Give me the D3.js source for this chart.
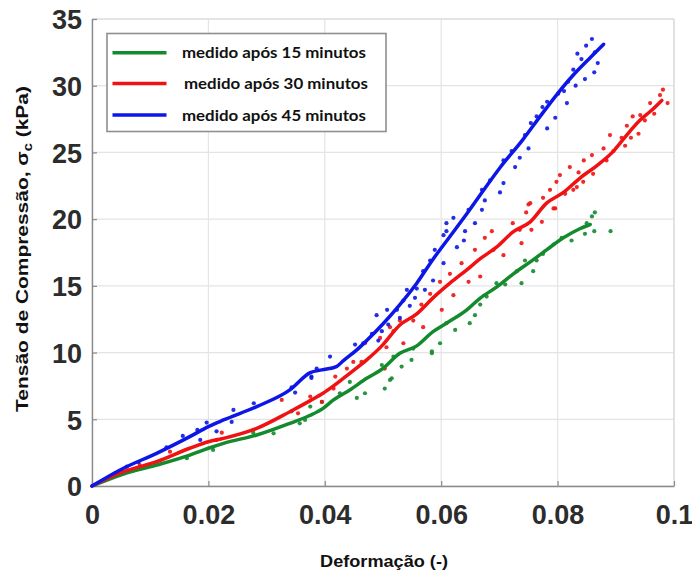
<!DOCTYPE html>
<html>
<head>
<meta charset="utf-8">
<script src="https://cdn.jsdelivr.net/npm/d3@7/dist/d3.min.js"></script>
<style>
  html, body { margin: 0; padding: 0; background: #fff; }
  svg { display: block; }
</style>
</head>
<body>
<svg id="chart" width="692" height="570"></svg>
<script>
// Compression stress vs. strain, measured 15, 30 and 45 minutes after preparation.
const seriesNames = ["medido após 15 minutos", "medido após 30 minutos", "medido após 45 minutos"];
const seriesColors = ["#138a2c", "#f01212", "#0c16e6"];

const xTicks = [0, 0.02, 0.04, 0.06, 0.08, 0.1];
const xTickLabels = ["0", "0.02", "0.04", "0.06", "0.08", "0.1"];
const yTicks = [0, 5, 10, 15, 20, 25, 30, 35];
const yTickLabels = ["0", "5", "10", "15", "20", "25", "30", "35"];

// smoothed curves [strain, stress kPa]
const curve15 = [
  [0, 0], [0.0054, 0.9], [0.0111, 1.57], [0.0168, 2.32], [0.020, 2.83], [0.0226, 3.2],
  [0.0283, 3.82], [0.034, 4.7], [0.0375, 5.3], [0.0397, 5.82], [0.0415, 6.45], [0.0443, 7.2],
  [0.0472, 8.07], [0.0498, 8.75], [0.0529, 9.95], [0.0558, 10.5], [0.0586, 11.57],
  [0.0609, 12.2], [0.0644, 13.2], [0.0666, 14.05], [0.0695, 14.9], [0.0724, 15.9],
  [0.0753, 16.8], [0.0781, 17.7], [0.0810, 18.6], [0.0839, 19.3], [0.0856, 19.6]
];
const curve30 = [
  [0, 0], [0.0054, 1.07], [0.0111, 1.82], [0.0168, 2.83], [0.020, 3.32], [0.0226, 3.57],
  [0.0283, 4.32], [0.034, 5.57], [0.0375, 6.4], [0.0397, 6.95], [0.0415, 7.5], [0.0443, 8.45],
  [0.0472, 9.45], [0.0498, 10.5], [0.0529, 12.07], [0.0558, 12.9], [0.0586, 14.1],
  [0.0615, 15.2], [0.0644, 16.2], [0.0666, 17.0], [0.0695, 17.9], [0.0724, 19.06],
  [0.0753, 19.8], [0.0781, 21.2], [0.0810, 22.0], [0.0839, 23.1], [0.0867, 24.0],
  [0.0896, 25.1], [0.0913, 26.0], [0.0941, 27.4], [0.0960, 28.1], [0.0979, 28.9]
];
const curve45 = [
  [0, 0], [0.0054, 1.33], [0.0111, 2.45], [0.0168, 3.7], [0.020, 4.45], [0.0226, 4.95],
  [0.0283, 5.95], [0.034, 7.2], [0.0375, 8.5], [0.0395, 8.7], [0.042, 8.95], [0.0432, 9.4],
  [0.0455, 10.2], [0.0472, 10.9], [0.0501, 12.2], [0.0529, 13.6], [0.0558, 15.2],
  [0.0586, 17.0], [0.0615, 18.7], [0.0644, 20.4], [0.0670, 22.0], [0.0700, 23.8],
  [0.0741, 26.0], [0.0770, 27.7], [0.0798, 29.3], [0.0827, 30.8], [0.0856, 32.1], [0.0879, 33.1]
];

// raw measurements [strain, stress kPa]
const points15 = [
  [0.0864, 20.5], [0.0859, 20.2], [0.0863, 19.1], [0.0847, 18.9], [0.0891, 19.1], [0.0850, 19.7],
  [0.0824, 18.4], [0.0807, 18.6], [0.0793, 18.1], [0.0775, 17.4], [0.0764, 16.9], [0.0744, 16.9],
  [0.0758, 16.1], [0.0730, 16.1], [0.0738, 15.2], [0.0710, 15.1], [0.0695, 15.2], [0.0678, 14.2],
  [0.0667, 13.6], [0.0658, 12.8], [0.0649, 12.2], [0.0624, 11.7], [0.0609, 12.2], [0.0598, 10.7],
  [0.0584, 10.1], [0.0552, 10.3], [0.0549, 9.45], [0.0532, 8.95], [0.0518, 9.7], [0.0512, 7.95],
  [0.0503, 7.3], [0.0584, 9.95], [0.0515, 8.07], [0.0498, 9.07], [0.0469, 6.95], [0.0455, 6.6],
  [0.0443, 7.8], [0.0426, 6.95], [0.0395, 6.3], [0.0375, 5.95], [0.0366, 4.95], [0.0312, 3.95],
  [0.0357, 4.7], [0.0343, 5.6], [0.0208, 2.7], [0.0163, 2.08], [0.0277, 4.0]
];
const points30 = [
  [0.0981, 29.7], [0.0976, 29.3], [0.0989, 28.7], [0.0959, 28.7], [0.0966, 27.9], [0.0942, 27.8],
  [0.0950, 27.4], [0.0929, 27.7], [0.0939, 26.4], [0.0919, 27.0], [0.0926, 26.1], [0.0910, 26.1],
  [0.0890, 26.3], [0.0916, 25.5], [0.0896, 25.1], [0.0879, 25.3], [0.0859, 24.8], [0.0884, 24.4],
  [0.0861, 23.4], [0.0845, 24.4], [0.0821, 23.9], [0.0836, 23.5], [0.0844, 22.8], [0.0798, 22.8],
  [0.0827, 22.2], [0.0813, 21.9], [0.0787, 22.2], [0.0796, 20.8], [0.0775, 21.6], [0.0753, 21.2],
  [0.0746, 20.5], [0.0773, 19.8], [0.0723, 19.7], [0.0735, 19.2], [0.0687, 19.1], [0.0675, 18.6],
  [0.0804, 23.3], [0.0833, 22.4], [0.0750, 21.1], [0.0793, 20.8], [0.0755, 19.2], [0.0738, 18.2],
  [0.0658, 17.7], [0.0707, 17.3], [0.0690, 17.7], [0.0667, 15.7], [0.0635, 16.7], [0.0615, 15.9],
  [0.0647, 15.3], [0.0598, 15.3], [0.0621, 14.3], [0.0581, 14.4], [0.0601, 13.2], [0.0566, 13.6],
  [0.0552, 12.4], [0.0529, 12.4], [0.0518, 11.6], [0.0569, 11.9], [0.0506, 10.4], [0.0535, 10.7],
  [0.0503, 8.8], [0.0512, 11.9], [0.0495, 11.1], [0.0469, 10.7], [0.0463, 9.3], [0.0449, 9.3],
  [0.0438, 8.8], [0.0418, 8.2], [0.0415, 7.3], [0.0395, 6.3], [0.0375, 6.7], [0.0354, 5.45],
  [0.0326, 6.45], [0.0223, 4.0], [0.0214, 3.45], [0.0134, 2.57], [0.0082, 1.57]
];
const points45 = [
  [0.0859, 33.5], [0.0849, 33.0], [0.0864, 32.5], [0.0834, 32.4], [0.0841, 32.0], [0.0869, 31.7],
  [0.0827, 31.2], [0.0863, 31.0], [0.0847, 30.5], [0.0818, 30.3], [0.0831, 30.0], [0.0811, 29.6],
  [0.0801, 29.4], [0.0816, 28.7], [0.0782, 28.8], [0.0774, 28.4], [0.0796, 27.6], [0.0764, 27.7],
  [0.0782, 26.8], [0.0754, 27.2], [0.0744, 26.3], [0.0721, 25.1], [0.0750, 25.3], [0.0735, 24.6],
  [0.0707, 24.4], [0.0727, 23.9], [0.0684, 22.9], [0.0707, 22.7], [0.0670, 22.2], [0.0701, 22.0],
  [0.0675, 21.4], [0.0647, 20.7], [0.0670, 20.7], [0.0621, 20.1], [0.0609, 19.7], [0.0658, 19.7],
  [0.0641, 19.1], [0.0609, 19.1], [0.0604, 18.8], [0.0639, 18.4], [0.0589, 17.7], [0.0627, 17.9],
  [0.0581, 16.9], [0.0604, 16.7], [0.0569, 16.1], [0.0586, 15.4], [0.0558, 14.8], [0.0541, 14.7],
  [0.0572, 14.7], [0.0555, 14.1], [0.0535, 13.9], [0.0546, 13.5], [0.0524, 13.2], [0.0507, 13.2],
  [0.0529, 12.6], [0.0489, 12.8], [0.0509, 12.1], [0.0498, 11.6], [0.0481, 11.4], [0.0466, 10.7],
  [0.0452, 10.6], [0.0492, 10.9], [0.0409, 9.7], [0.0386, 8.8], [0.0377, 8.2], [0.0377, 8.1],
  [0.0349, 7.0], [0.0343, 7.4], [0.0278, 6.2], [0.0243, 5.7], [0.0240, 4.8], [0.0197, 4.75],
  [0.0214, 4.1], [0.0181, 4.2], [0.0156, 3.75], [0.0128, 2.9], [0.0080, 1.8], [0.0060, 1.45],
  [0.0040, 0.95], [0.0186, 3.45]
];

const curves = [curve15, curve30, curve45];
const points = [points15, points30, points45];

const svg = d3.select("#chart");
const plot = { left: 92, right: 674, top: 19, bottom: 486 };

const x = d3.scaleLinear().domain([0, 0.1]).range([plot.left, plot.right]);
const y = d3.scaleLinear().domain([0, 35]).range([plot.bottom, plot.top]);

// grid
const grid = svg.append("g").attr("stroke", "#e4e4e4").attr("stroke-width", 1.2);
xTicks.forEach(t => grid.append("line")
  .attr("x1", x(t)).attr("x2", x(t)).attr("y1", plot.top).attr("y2", plot.bottom));
yTicks.forEach(t => grid.append("line")
  .attr("x1", plot.left).attr("x2", plot.right).attr("y1", y(t)).attr("y2", y(t)));

// box edges
svg.append("line").attr("x1", plot.left).attr("x2", plot.right)
  .attr("y1", plot.top).attr("y2", plot.top).attr("stroke", "#d8d8d8").attr("stroke-width", 1.2);
svg.append("line").attr("x1", plot.right).attr("x2", plot.right)
  .attr("y1", plot.top).attr("y2", plot.bottom).attr("stroke", "#d8d8d8").attr("stroke-width", 1.2);

// axes with inward ticks
const tickFont = "'Liberation Sans', Arial, sans-serif";
const xAxis = svg.append("g").attr("transform", `translate(0,${plot.bottom})`)
  .call(d3.axisBottom(x).tickValues(xTicks).tickFormat((d, i) => xTickLabels[i])
    .tickSizeInner(-5).tickSizeOuter(0).tickPadding(26));
const yAxis = svg.append("g").attr("transform", `translate(${plot.left},0)`)
  .call(d3.axisLeft(y).tickValues(yTicks).tickFormat((d, i) => yTickLabels[i])
    .tickSizeInner(-5).tickSizeOuter(0).tickPadding(10));
[xAxis, yAxis].forEach(a => {
  a.select(".domain").attr("stroke", "#8a8a8a").attr("stroke-width", 1.4);
  a.selectAll(".tick line").attr("stroke", "#8a8a8a").attr("stroke-width", 1.2);
  a.selectAll(".tick text").attr("fill", "#2c2c2c").attr("font-family", tickFont)
    .attr("font-weight", "bold").attr("font-size", 27);
});
xAxis.selectAll(".tick text").attr("dy", "0.45em");
yAxis.selectAll(".tick text").attr("dy", "0.36em");

// measured points
const pts = svg.append("g");
points.forEach((arr, i) => {
  pts.append("g").attr("fill", seriesColors[i]).attr("fill-opacity", 0.9)
    .selectAll("circle").data(arr).join("circle")
    .attr("cx", d => x(d[0])).attr("cy", d => y(d[1])).attr("r", 2.1);
});

// curves
const line = d3.line().x(d => x(d[0])).y(d => y(d[1])).curve(d3.curveMonotoneX);
curves.forEach((c, i) => {
  svg.append("path").datum(c).attr("d", line)
    .attr("fill", "none").attr("stroke", seriesColors[i]).attr("stroke-width", 3.5)
    .attr("stroke-linejoin", "round").attr("stroke-linecap", "round");
});

// stretch a text node horizontally to a given width
function fitWidth(node, target) {
  const w = node.getComputedTextLength();
  return w > 0 ? target / w : 1;
}

// legend
const legend = svg.append("g");
legend.append("rect").attr("x", 107).attr("y", 33.5).attr("width", 279).attr("height", 98)
  .attr("fill", "#fff").attr("stroke", "#8f8f8f").attr("stroke-width", 1.6);
const legendRows = [52.7, 83.5, 115];
const legendTextX = [182, 184, 182];
seriesNames.forEach((name, i) => {
  legend.append("line").attr("x1", 112.5).attr("x2", 166.5)
    .attr("y1", legendRows[i]).attr("y2", legendRows[i])
    .attr("stroke", seriesColors[i]).attr("stroke-width", 3.4);
  const t = legend.append("text")
    .attr("font-family", "Lato, 'Open Sans', sans-serif").attr("font-weight", "bold")
    .attr("font-size", 15.5).attr("fill", "#111").text(name);
  const k = fitWidth(t.node(), 184);
  t.attr("transform", `translate(${legendTextX[i]},${legendRows[i] + 5.5}) scale(${k},1)`);
});

// axis titles
const xt = svg.append("text").attr("font-family", tickFont).attr("font-weight", "bold")
  .attr("font-size", 16).attr("fill", "#111").attr("text-anchor", "middle")
  .text("Deformação (-)");
xt.attr("transform", `translate(384,566.5) scale(${fitWidth(xt.node(), 128)},1)`);

const yt = svg.append("text").attr("font-family", tickFont).attr("font-weight", "bold")
  .attr("font-size", 17).attr("fill", "#111").attr("text-anchor", "middle");
yt.append("tspan").text("Tensão de Compressão, σ");
yt.append("tspan").attr("font-size", 12).attr("dy", 4).text("c");
yt.append("tspan").attr("dy", -4).text(" (kPa)");
const yk = fitWidth(yt.node(), 326);
yt.attr("transform", `translate(27.5,249) rotate(-90) scale(${yk},1)`);
</script>
</body>
</html>
